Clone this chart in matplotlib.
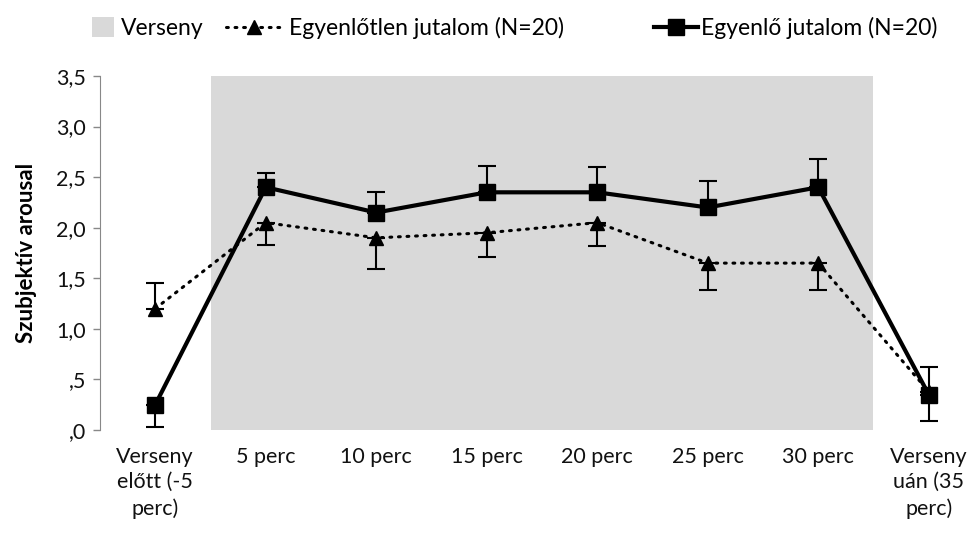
import matplotlib.pyplot as plt
from matplotlib.lines import Line2D
from matplotlib.patches import Patch

plt.rcParams['font.family'] = ['Lato', 'DejaVu Sans']

labels = ["Verseny\nelőtt (-5\nperc)", "5 perc", "10 perc", "15 perc",
          "20 perc", "25 perc", "30 perc", "Verseny\nuán (35\nperc)"]

# egyenlőtlen jutalom (háromszög, pontozott)
uneq = [1.20, 2.05, 1.90, 1.95, 2.05, 1.65, 1.65, 0.38]
uneq_lo = [0.00, 0.22, 0.31, 0.24, 0.23, 0.27, 0.27, 0.29]
uneq_hi = [0.25, 0.00, 0.00, 0.00, 0.00, 0.00, 0.00, 0.00]

# egyenlő jutalom (négyzet, folytonos)
eq = [0.25, 2.40, 2.15, 2.35, 2.35, 2.20, 2.40, 0.35]
eq_lo = [0.22, 0.00, 0.00, 0.00, 0.00, 0.00, 0.00, 0.00]
eq_hi = [0.00, 0.14, 0.20, 0.26, 0.25, 0.26, 0.28, 0.27]

x = list(range(len(labels)))

dot_style = dict(color="black", lw=2.2, ls=(0, (0.6, 2.2)), dash_capstyle="round",
                 marker="^", ms=10)
solid_style = dict(color="black", lw=3, marker="s", ms=11)

fig = plt.figure(figsize=(9.75, 5.43), dpi=100)
ax = fig.add_axes([100 / 975, 113 / 543, 884 / 975, 354 / 543])

# verseny időszaka
ax.axvspan(0.5, 6.5, color="#d9d9d9", lw=0, zorder=0)

ax.errorbar(x, uneq, yerr=[uneq_lo, uneq_hi], fmt="none", ecolor="black",
            elinewidth=1.5, capsize=6.5, capthick=1.5, zorder=2)
ax.plot(x, uneq, zorder=3, **dot_style)

ax.errorbar(x, eq, yerr=[eq_lo, eq_hi], fmt="none", ecolor="black",
            elinewidth=1.5, capsize=6.5, capthick=1.5, zorder=4)
ax.plot(x, eq, zorder=5, **solid_style)

ax.set_xlim(-0.5, 7.5)
ax.set_ylim(0, 3.5)
ax.set_yticks([0, 0.5, 1, 1.5, 2, 2.5, 3, 3.5])
ax.set_yticklabels([",0", ",5", "1,0", "1,5", "2,0", "2,5", "3,0", "3,5"])
ax.set_xticks(x)
ax.set_xticklabels(labels, linespacing=1.35)
ax.tick_params(axis="x", length=0, pad=12, labelsize=15.5, labelcolor="#111111")
ax.tick_params(axis="y", length=5, width=1, color="#888888", pad=5,
               labelsize=15.5, labelcolor="#111111")
ax.set_ylabel("Szubjektív arousal", fontsize=16, fontweight="bold", labelpad=14)

for s in ["top", "right", "bottom"]:
    ax.spines[s].set_visible(False)
ax.spines["left"].set_color("#888888")

# jelmagyarázat: három külön elem, eltérő jelhosszal
legend_y = 1 - 28 / 543
common = dict(loc="center left", frameon=False, fontsize=16.5, borderpad=0,
              borderaxespad=0)
leg1 = fig.legend([Patch(facecolor="#d9d9d9", edgecolor="none")], ["Verseny"],
                  bbox_to_anchor=(92 / 975, legend_y), handlelength=0.95,
                  handleheight=0.95, handletextpad=0.3, **common)
leg2 = fig.legend([Line2D([], [], **dot_style)], ["Egyenlőtlen jutalom (N=20)"],
                  bbox_to_anchor=(226 / 975, legend_y), handlelength=2.4,
                  handletextpad=0.35, **common)
leg3 = fig.legend([Line2D([], [], **solid_style)], ["Egyenlő jutalom (N=20)"],
                  bbox_to_anchor=(654 / 975, legend_y), handlelength=1.9,
                  handletextpad=0.15, **common)

fig.savefig("out.png", dpi=100)
